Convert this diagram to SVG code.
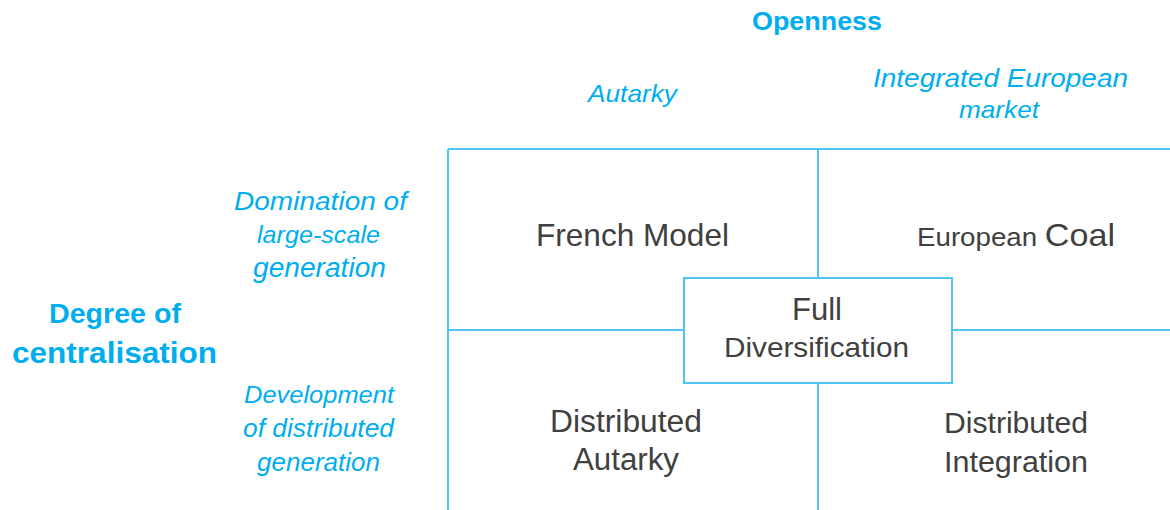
<svg xmlns="http://www.w3.org/2000/svg" width="1170" height="510" viewBox="0 0 1170 510">
<style>
.ln{stroke:#50c4f2;stroke-width:2;fill:none}
.ax{fill:#00aeef;font-family:"Liberation Sans",Arial,sans-serif;font-weight:bold;text-anchor:middle}
.it{fill:#00aeef;font-family:"Liberation Sans",Arial,sans-serif;font-style:italic;text-anchor:middle}
.q{fill:#404040;font-family:"Liberation Sans",Arial,sans-serif;text-anchor:middle}
</style>
<rect width="1170" height="510" fill="#ffffff"/>
<g id="axis-labels">
<text class="ax" x="817" y="30" font-size="26" textLength="130" lengthAdjust="spacingAndGlyphs">Openness</text>
<text class="it" x="632.5" y="102" font-size="24" textLength="89" lengthAdjust="spacingAndGlyphs">Autarky</text>
<text class="it" x="1000.5" y="87" font-size="26.5" textLength="255" lengthAdjust="spacingAndGlyphs">Integrated European</text>
<text class="it" x="999" y="118" font-size="24" textLength="80" lengthAdjust="spacingAndGlyphs">market</text>
<text class="it" x="320.5" y="210" font-size="26" textLength="173" lengthAdjust="spacingAndGlyphs">Domination of</text>
<text class="it" x="318.5" y="243" font-size="24" textLength="123" lengthAdjust="spacingAndGlyphs">large-scale</text>
<text class="it" x="319.5" y="277" font-size="27" textLength="133" lengthAdjust="spacingAndGlyphs">generation</text>
<text class="ax" x="115" y="322.5" font-size="27.5" textLength="132" lengthAdjust="spacingAndGlyphs">Degree of</text>
<text class="ax" x="114.5" y="362.5" font-size="30" textLength="205" lengthAdjust="spacingAndGlyphs">centralisation</text>
<text class="it" x="319" y="403" font-size="24.5" textLength="150" lengthAdjust="spacingAndGlyphs">Development</text>
<text class="it" x="318.5" y="437" font-size="25" textLength="151" lengthAdjust="spacingAndGlyphs">of distributed</text>
<text class="it" x="318.5" y="470.5" font-size="25" textLength="123" lengthAdjust="spacingAndGlyphs">generation</text>
</g>
<g id="connectors">
<line class="ln" x1="448" y1="149" x2="1170" y2="149"/>
<line class="ln" x1="448" y1="149" x2="448" y2="510"/>
<line class="ln" x1="818" y1="149" x2="818" y2="278"/>
<line class="ln" x1="818" y1="383" x2="818" y2="510"/>
<line class="ln" x1="448" y1="330" x2="684" y2="330"/>
<line class="ln" x1="952" y1="330" x2="1170" y2="330"/>
</g>
<g id="french-model">
<text class="q" x="632.5" y="246" font-size="30.5" textLength="193" lengthAdjust="spacingAndGlyphs">French Model</text>
</g>
<g id="european-coal">
<text class="q" x="1016" y="245.5" textLength="198" lengthAdjust="spacingAndGlyphs"><tspan font-size="26">European </tspan><tspan font-size="32">Coal</tspan></text>
</g>
<g id="full-diversification">
<rect class="ln" x="684" y="278" width="268" height="105"/>
<text class="q" x="817" y="320" font-size="31" textLength="50" lengthAdjust="spacingAndGlyphs">Full</text>
<text class="q" x="816.5" y="357" font-size="28.5" textLength="185" lengthAdjust="spacingAndGlyphs">Diversification</text>
</g>
<g id="distributed-autarky">
<text class="q" x="626" y="431.5" font-size="31" textLength="152" lengthAdjust="spacingAndGlyphs">Distributed</text>
<text class="q" x="626" y="470" font-size="31" textLength="106" lengthAdjust="spacingAndGlyphs">Autarky</text>
</g>
<g id="distributed-integration">
<text class="q" x="1016" y="432.5" font-size="29" textLength="144" lengthAdjust="spacingAndGlyphs">Distributed</text>
<text class="q" x="1016" y="471.5" font-size="29" textLength="144" lengthAdjust="spacingAndGlyphs">Integration</text>
</g>
</svg>
